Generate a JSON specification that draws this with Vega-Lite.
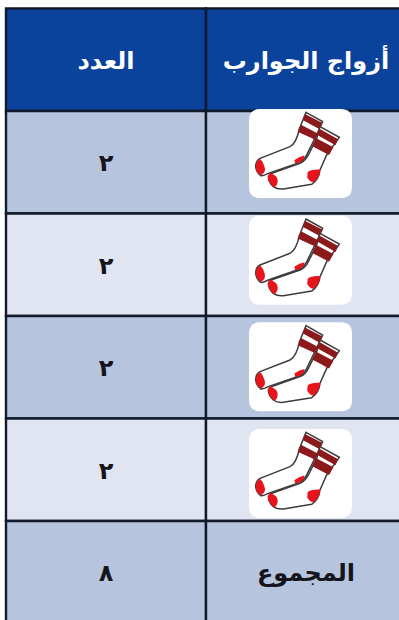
{
"$schema":"https://vega.github.io/schema/vega-lite/v6.json",
"width":399,"height":620,"padding":0,"autosize":{"type":"none"},
"background":"white",
"config":{"view":{"stroke":null}},
"datasets":{
"cells":[
{"row":"header","col":"count","label":"العدد","tone":"header","ink":"light"},
{"row":"header","col":"pairs","label":"أزواج الجوارب","tone":"header","ink":"light"},
{"row":"r1","col":"count","label":"٢","tone":"odd","ink":"dark"},
{"row":"r1","col":"pairs","label":"","tone":"odd","ink":"dark"},
{"row":"r2","col":"count","label":"٢","tone":"even","ink":"dark"},
{"row":"r2","col":"pairs","label":"","tone":"even","ink":"dark"},
{"row":"r3","col":"count","label":"٢","tone":"odd","ink":"dark"},
{"row":"r3","col":"pairs","label":"","tone":"odd","ink":"dark"},
{"row":"r4","col":"count","label":"٢","tone":"even","ink":"dark"},
{"row":"r4","col":"pairs","label":"","tone":"even","ink":"dark"},
{"row":"total","col":"count","label":"٨","tone":"odd","ink":"dark"},
{"row":"total","col":"pairs","label":"المجموع","tone":"odd","ink":"dark"}
],
"icons":[{"row":"r1","col":"pairs"},{"row":"r2","col":"pairs"},{"row":"r3","col":"pairs"},{"row":"r4","col":"pairs"}]
},
"encoding":{
"x":{"field":"col","type":"nominal","axis":null,"scale":{"type":"band","domain":["count","pairs"],"range":[6,406],"paddingInner":0,"paddingOuter":0}}
},
"layer":[
{"data":{"name":"cells"},
 "mark":{"type":"rect","stroke":"#111a2a","strokeWidth":2.4},
 "encoding":{
  "y":{"field":"row","type":"nominal","axis":null,"scale":{"type":"band","domain":["header","r1","r2","r3","r4","total"],"range":[8.5,623.5],"paddingInner":0,"paddingOuter":0}},
  "fill":{"field":"tone","type":"nominal","legend":null,"scale":{"domain":["header","odd","even"],"range":["#0a429c","#b7c4de","#e0e5f1"]}}
 }},
{"data":{"name":"cells"},
 "transform":[{"filter":"datum.label !== ''"}],
 "mark":{"type":"text","font":"DejaVu Sans","fontWeight":"bold","fontSize":24,"align":"center","baseline":"middle","dy":2},
 "encoding":{
  "y":{"field":"row","type":"nominal","axis":null,"scale":{"type":"band","domain":["header","r1","r2","r3","r4","total"],"range":[8.5,623.5],"paddingInner":0,"paddingOuter":0}},
  "text":{"field":"label"},
  "color":{"field":"ink","type":"nominal","legend":null,"scale":{"domain":["light","dark"],"range":["#ffffff","#14141c"]}}
 }},
{"data":{"name":"icons"},
 "encoding":{
  "y":{"field":"row","type":"ordinal","axis":null,"scale":{"type":"point","domain":["r1","r2","r3","r4"],"range":[153.5,473.5],"padding":0}}
 },
 "layer":[
  {"mark":{"type":"point","filled":true,"fill":"#ffffff","opacity":1,"size":10609,"xOffset":-5.5,"shape":"M-0.78 -0.864H0.78Q1 -0.864 1 -0.644V0.644Q1 0.864 0.78 0.864H-0.78Q-1 0.864 -1 0.644V-0.644Q-1 -0.864 -0.78 -0.864Z"}},
  {"mark":{"type":"point","filled":true,"fill":"#ffffff","stroke":"#3c3c3c","strokeWidth":1.5,"opacity":1,"size":10609,"xOffset":-5.5,"shape":"M0.107 -0.799L0.43 -0.618L0.327 -0.392L0.152 -0.036Q0.09 0.12 -0.01 0.172L-0.625 0.385Q-0.72 0.44 -0.773 0.43Q-0.86 0.36 -0.871 0.256Q-0.87 0.14 -0.786 0.094L-0.204 -0.133Q-0.08 -0.2 -0.023 -0.476Z"}},
  {"mark":{"type":"point","filled":true,"fill":"#8c1a1c","opacity":1,"size":10609,"xOffset":-5.5,"shape":"M0.095 -0.76L0.418 -0.595L0.372 -0.47L0.04 -0.65ZM0.01 -0.56L0.345 -0.385L0.288 -0.265L-0.055 -0.42Z"}},
  {"mark":{"type":"point","filled":true,"fill":"#e8141c","opacity":1,"size":10609,"xOffset":-5.5,"shape":"M-0.786 0.1Q-0.9 0.2 -0.86 0.3Q-0.84 0.39 -0.76 0.42Q-0.66 0.35 -0.7 0.25Q-0.72 0.16 -0.786 0.1ZM-0.12 0.13Q-0.02 0.05 0.08 0.04Q0.07 0.13 -0.01 0.172L-0.1 0.2Z"}},
  {"mark":{"type":"point","filled":true,"fill":"#ffffff","stroke":"#3c3c3c","strokeWidth":1.5,"opacity":1,"size":10609,"xOffset":-5.5,"shape":"M0.379 -0.521L0.754 -0.314L0.67 -0.197L0.508 0.029L0.379 0.32Q0.36 0.5 0.217 0.599L-0.333 0.689Q-0.45 0.7 -0.528 0.644Q-0.62 0.56 -0.625 0.45Q-0.6 0.39 -0.528 0.372L-0.01 0.191Q0.1 0.14 0.152 0.029L0.314 -0.294Z"}},
  {"mark":{"type":"point","filled":true,"fill":"#8c1a1c","opacity":1,"size":10609,"xOffset":-5.5,"shape":"M0.367 -0.48L0.73 -0.275L0.68 -0.16L0.318 -0.365ZM0.298 -0.3L0.64 -0.12L0.555 0.03L0.228 -0.14Z"}},
  {"mark":{"type":"point","filled":true,"fill":"#e8141c","opacity":1,"size":10609,"xOffset":-5.5,"shape":"M-0.6 0.38Q-0.66 0.46 -0.61 0.54Q-0.57 0.63 -0.5 0.66Q-0.42 0.58 -0.45 0.49Q-0.48 0.41 -0.6 0.38ZM0.14 0.36Q0.2 0.3 0.38 0.31Q0.38 0.46 0.25 0.56Q0.16 0.54 0.13 0.46Z"}}
 ]}
],
"resolve":{"scale":{"y":"independent","color":"independent","fill":"independent"}}
}
